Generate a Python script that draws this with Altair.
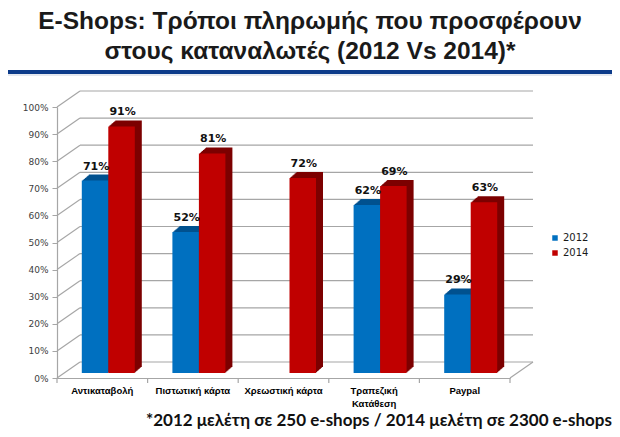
import altair as alt
import pandas as pd

categories = ["Αντικαταβολή", "Πιστωτική κάρτα", "Χρεωστική κάρτα", "Τραπεζική Κατάθεση", "Paypal"]
years = ["2012", "2014"]
values_2012 = [71, 52, None, 62, 29]
values_2014 = [91, 81, 72, 69, 63]
y_ticks = [0, 10, 20, 30, 40, 50, 60, 70, 80, 90, 100]
title_lines = ["E-Shops: Τρόποι πληρωμής που προσφέρουν", "στους καταναλωτές (2012 Vs 2014)*"]
footnote = "*2012 μελέτη σε 250 e-shops / 2014 μελέτη σε 2300 e-shops"

rows = []
for c, a, b in zip(categories, values_2012, values_2014):
    if a is not None:
        rows.append({"cat": c, "year": "2012", "v": a, "lbl": f"{a}%"})
    rows.append({"cat": c, "year": "2014", "v": b, "lbl": f"{b}%"})
df = pd.DataFrame(rows)
ticks_df = pd.DataFrame({"v": y_ticks})

W, H = 453, 271
DX, DY = 23, 16      # back wall depth
FX, FY = 6, 5        # bar front-face set back
BX, BY = 7, 6        # bar depth
BW = 26.5            # bar width
PI, PO = 0.415, 0.2075
STEP = W / 5.0
GRID = "#a6a6a6"
front_colors = {"2012": "#0070C0", "2014": "#C00000"}
dark_colors = {"2012": "#00518f", "2014": "#7c0000"}
year_shift = {"2012": -BW / 2, "2014": BW / 2}

xs = alt.Scale(domain=categories, paddingInner=PI, paddingOuter=PO)
ys = alt.Scale(domain=[0, 100], nice=False, zero=True)

x_axis = alt.Axis(title=None, ticks=False, domainColor=GRID, domainWidth=1.2,
                  labelFont="Liberation Sans", labelFontWeight="bold", labelFontSize=9.5,
                  labelColor="#000000", labelPadding=7, labelAngle=0, labelLineHeight=13,
                  labelExpr="datum.label == 'Τραπεζική Κατάθεση' ? ['Τραπεζική', 'Κατάθεση'] : datum.label")
y_axis = alt.Axis(title=None, values=y_ticks, labelExpr="datum.value + '%'", grid=False,
                  domainColor=GRID, domainWidth=1.2, tickColor=GRID, tickSize=5,
                  labelFont="DejaVu Sans", labelFontSize=9, labelColor="#404040", labelPadding=4)

X = alt.X("cat:N", scale=xs, sort=categories, axis=x_axis)
Y = alt.Y("v:Q", scale=ys, axis=y_axis)

layers = []

# back wall gridlines
layers.append(alt.Chart(ticks_df).mark_rule(color=GRID, strokeWidth=1.2, yOffset=-DY).encode(
    x=alt.value(DX), x2=alt.value(W + DX), y=Y))
# slanted side lines from the front axis to the back wall
layers.append(alt.Chart(ticks_df).mark_rule(color=GRID, strokeWidth=1.2, y2Offset=-DY).encode(
    x=alt.value(0), x2=alt.value(DX), y=Y, y2=alt.Y2("v:Q")))
# floor right edge
layers.append(alt.Chart(ticks_df[ticks_df.v == 0]).mark_rule(color=GRID, strokeWidth=1.2, y2Offset=-DY).encode(
    x=alt.value(W), x2=alt.value(W + DX), y=Y, y2=alt.Y2("v:Q")))
# category boundary ticks
cat_df = pd.DataFrame({"cat": categories})
layers.append(alt.Chart(cat_df).mark_rule(color=GRID, strokeWidth=1.2, xOffset=-PI * STEP / 2).encode(
    x=alt.X("cat:N", scale=xs, sort=categories, axis=x_axis, bandPosition=0),
    y=alt.value(H), y2=alt.value(H + 5)))
layers.append(alt.Chart(cat_df.tail(1)).mark_rule(color=GRID, strokeWidth=1.2, xOffset=PI * STEP / 2).encode(
    x=alt.X("cat:N", scale=xs, sort=categories, axis=x_axis, bandPosition=1),
    y=alt.value(H), y2=alt.value(H + 5)))

# bars: extrusion then front face, per year (2014 after 2012 so it overlaps the blue side)
for yr in years:
    base = alt.Chart(df).transform_filter(f"datum.year == '{yr}'")
    for i in range(1, BX + 1):
        oy = FY + i * BY / BX
        layers.append(base.mark_bar(width=BW, xOffset=year_shift[yr] + FX + i, yOffset=-oy, y2Offset=-oy,
                                    color=dark_colors[yr]).encode(x=X, y=Y, y2=alt.datum(0)))
    layers.append(base.mark_bar(width=BW, xOffset=year_shift[yr] + FX, yOffset=-FY, y2Offset=-FY).encode(
        x=X, y=Y, y2=alt.datum(0),
        color=alt.Color("year:N", scale=alt.Scale(domain=years, range=[front_colors[y] for y in years]),
                        legend=alt.Legend(title=None, orient="none", legendX=493, legendY=126,
                                          symbolType="square", symbolSize=30, symbolStrokeWidth=0,
                                          labelFont="DejaVu Sans", labelFontSize=10, labelColor="#1a1a1a",
                                          rowPadding=5, labelOffset=3))))

# value labels
for yr in years:
    layers.append(alt.Chart(df).transform_filter(f"datum.year == '{yr}'").mark_text(
        dx=year_shift[yr] + FX + 1, dy=-16, baseline="alphabetic", font="DejaVu Sans",
        fontWeight="bold", fontSize=11, color="#111111").encode(x=X, y=Y, text="lbl:N"))

# title
title_df = pd.DataFrame({"t": title_lines})
for k, ty in enumerate([-85, -55]):
    layers.append(alt.Chart(title_df.iloc[[k]]).mark_text(font="Liberation Sans", fontWeight="bold", fontSize=24.5,
                                                           color="#1a1a1a", align="center", baseline="middle").encode(
        x=alt.value(253), y=alt.value(ty), text="t:N"))

# header rule
layers.append(alt.Chart(ticks_df.head(1)).mark_rule(color="#0d3b8a", strokeWidth=4).encode(
    x=alt.value(-57), x2=alt.value(563), y=alt.value(-35)))
layers.append(alt.Chart(ticks_df.head(1)).mark_rule(color="#c9d0df", strokeWidth=1).encode(
    x=alt.value(-57), x2=alt.value(563), y=alt.value(-32)))

# footnote
foot_df = pd.DataFrame({"t": [footnote]})
layers.append(alt.Chart(foot_df).mark_text(font="Lato", fontWeight="bold", fontSize=17, color="#111111",
                                           align="right", baseline="middle").encode(
    x=alt.value(555), y=alt.value(314), text="t:N"))

chart = alt.layer(*layers).properties(
    width=W, height=H,
    autosize=alt.AutoSizeParams(type="none"),
    padding={"left": 49, "top": 99, "right": 102, "bottom": 51},
).configure_view(stroke=None)

chart.save("out.html", embed_options={"renderer": "svg", "actions": False})
